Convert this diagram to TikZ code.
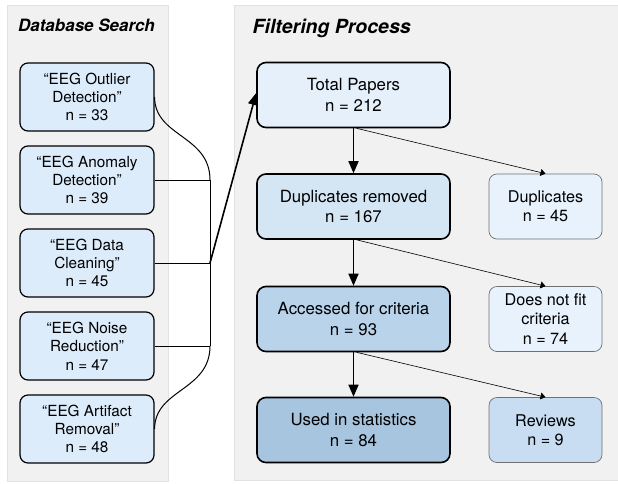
\documentclass[tikz,border=0pt]{standalone}
\usepackage{fontspec}
\setmainfont{TeX Gyre Heros}
\usetikzlibrary{arrows.meta}
\definecolor{panelfill}{HTML}{F1F1F1}
\definecolor{panelline}{HTML}{E2E2E2}
\definecolor{leftfill}{HTML}{DCECFB}
\definecolor{totfill}{HTML}{E5F0FB}
\definecolor{remfill}{HTML}{D4E5F4}
\definecolor{accfill}{HTML}{B9D3EA}
\definecolor{usefill}{HTML}{A8C5DF}
\definecolor{sidefill}{HTML}{E8F2FC}
\definecolor{revfill}{HTML}{C8DDF1}
\definecolor{sideline}{HTML}{707070}
\tikzset{
  panel/.style={fill=panelfill, draw=panelline, line width=0.8pt},
  paneltitle/.style={font=\fontsize{17}{20}\selectfont\bfseries\itshape, inner sep=0pt},
  srcbox/.style={draw=black, line width=1.2pt, rounded corners=8pt, fill=leftfill,
    minimum width=134pt, minimum height=68pt, inner sep=0pt, align=center,
    font=\fontsize{15.3}{18.3}\selectfont},
  mainbox/.style={draw=black, line width=1.6pt, rounded corners=9pt,
    minimum width=193pt, minimum height=65pt, inner sep=0pt, align=center,
    font=\fontsize{16.8}{20.5}\selectfont},
  sidebox/.style={draw=sideline, line width=0.7pt, rounded corners=8pt,
    minimum width=113pt, minimum height=65pt, inner sep=0pt, align=center,
    font=\fontsize{16.2}{19.3}\selectfont},
  link/.style={line width=1pt},
  bigarrow/.style={line width=1.6pt, -{Triangle[length=12pt,width=10pt]}},
  thinarrow/.style={line width=0.6pt, -{Triangle[length=5pt,width=7pt]}}
}
\begin{document}
\begin{tikzpicture}[x=1pt,y=-1pt]
\useasboundingbox (0,0) rectangle (618,483);
\fill[white] (0,0) rectangle (618,483);
% panels
\draw[panel] (7,5) rectangle (168,481);
\draw[panel] (234,5) rectangle (630,480);
\node[paneltitle, anchor=base] (t1) at (86.5,31.5) {Database Search};
\node[paneltitle, font=\fontsize{19.5}{22}\selectfont\bfseries\itshape, anchor=base west] (t2) at (252.5,33.5) {Filtering Process};
% source boxes
\node[srcbox] (b1) at (87,97) {“EEG Outlier\\Detection”\\n = 33};
\node[srcbox] (b2) at (87,180) {“EEG Anomaly\\Detection”\\n = 39};
\node[srcbox] (b3) at (87,263) {“EEG Data\\Cleaning”\\n = 45};
\node[srcbox] (b4) at (87,346) {“EEG Noise\\Reduction”\\n = 47};
\node[srcbox] (b5) at (87,429) {“EEG Artifact\\Removal”\\n = 48};
% main boxes
\node[mainbox, fill=totfill] (tot) at (353.5,95) {Total Papers\\n = 212};
\node[mainbox, fill=remfill] (rem) at (353.5,206.5) {Duplicates removed\\n = 167};
\node[mainbox, fill=accfill] (acc) at (353.5,319) {Accessed for criteria\\n = 93};
\node[mainbox, fill=usefill] (use) at (353.5,430) {Used in statistics\\n = 84};
% side boxes
\node[sidebox, fill=sidefill] (dup) at (545.5,206.5) {Duplicates\\n = 45};
\node[sidebox, fill=sidefill] (nfit) at (545.5,319) {Does not fit\\criteria\\n = 74};
\node[sidebox, fill=revfill] (rev) at (545.5,430) {Reviews\\n = 9};
% junction
\coordinate (j1) at (210,180);
\coordinate (jm) at (210,263);
\coordinate (j3) at (210,346);
\draw[link] (b1.east) .. controls +(0,40) and +(0,-45) .. (j1);
\draw[link] (b5.east) .. controls +(0,-40) and +(0,45) .. (j3);
\draw[link] (j1) -- (j3);
\draw[link] (b2.east) -- (j1);
\draw[link] (b3.east) -- (jm);
\draw[link] (b4.east) -- (j3);
\draw[bigarrow] (jm) -- ([yshift=2pt]tot.west);
% flow arrows
\draw[bigarrow] (tot.south) -- (rem.north);
\draw[bigarrow] (rem.south) -- (acc.north);
\draw[bigarrow] (acc.south) -- (use.north);
\draw[thinarrow] ([xshift=3pt]tot.south) -- (dup.north);
\draw[thinarrow] ([xshift=3pt]rem.south) -- (nfit.north);
\draw[thinarrow] ([xshift=3pt]acc.south) -- (rev.north);
\end{tikzpicture}
\end{document}
